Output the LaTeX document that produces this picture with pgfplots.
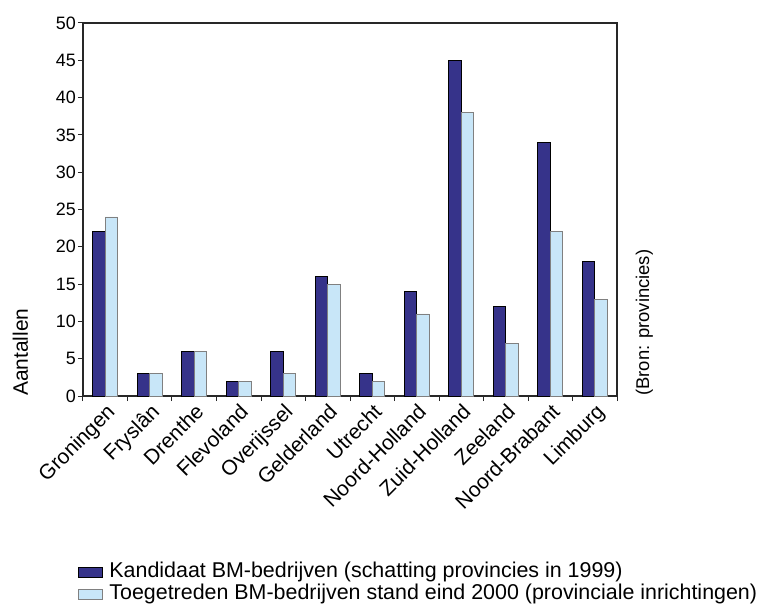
\documentclass[border=0pt]{standalone}
\usepackage{fontspec}
\setmainfont{Liberation Sans}
\usepackage{pgfplots}
\pgfplotsset{compat=1.18}
\definecolor{darkbar}{RGB}{54,51,138}
\definecolor{lightbar}{RGB}{200,230,248}
\definecolor{axiscol}{RGB}{40,40,40}
\begin{document}
\begin{tikzpicture}
\path[use as bounding box] (-83bp,-211bp) rectangle (675bp,396bp);
\begin{axis}[
  at={(0,0)}, anchor=south west,
  scale only axis, width=534bp, height=373bp,
  xmin=-0.5, xmax=11.5, ymin=0, ymax=50,
  ytick={0,5,...,50},
  xtick={0,...,11},
  xticklabels={Groningen,Fryslân,Drenthe,Flevoland,Overijssel,Gelderland,Utrecht,Noord-Holland,Zuid-Holland,Zeeland,Noord-Brabant,Limburg},
  minor xtick={-0.5,0.5,...,11.5},
  major x tick style={draw=none},
  tick align=outside,
  major tick length=5bp, minor tick length=5bp,
  xtick pos=bottom, ytick pos=left,
  tick style={axiscol, line width=1bp},
  axis line style={axiscol, line width=1.3bp},
  /pgf/number format/assume math mode=true,
  yticklabel style={font=\fontsize{18}{21}\selectfont, inner sep=2bp},
  xticklabel style={font=\fontsize{21}{24}\selectfont, rotate=45, anchor=north east, inner sep=1bp},
  ybar=0pt, bar width=0.28,
  legend style={at={(axis description cs:-0.0095,-0.443)}, anchor=north west, draw=none, fill=none,
    font=\fontsize{21.5}{24}\selectfont, inner sep=0pt, row sep=0pt,
    nodes={inner ysep=0.5bp, inner xsep=1.5bp, text height=16bp, text depth=5bp}},
  legend cell align=left,
  legend image code/.code={\draw[#1] (0bp,-5bp) rectangle (24bp,5bp); \path (29bp,0bp);},
]
\addplot[fill=darkbar, draw=black, line width=0.8bp] coordinates {
(0,22) (1,3) (2,6) (3,2) (4,6) (5,16) (6,3) (7,14) (8,45) (9,12) (10,34) (11,18)};
\addlegendentry{Kandidaat BM-bedrijven (schatting provincies in 1999)}
\addplot[fill=lightbar, draw=gray, line width=0.8bp] coordinates {
(0,24) (1,3) (2,6) (3,2) (4,3) (5,15) (6,2) (7,11) (8,38) (9,7) (10,22) (11,13)};
\addlegendentry{Toegetreden BM-bedrijven stand eind 2000 (provinciale inrichtingen)}
\end{axis}
\node[rotate=90, anchor=base west, inner sep=0pt, font=\fontsize{21}{24}\selectfont] at (-55bp,0) {Aantallen};
\node[rotate=90, anchor=base west, inner sep=0pt, font=\fontsize{18.5}{22}\selectfont] at (566bp,0) {(Bron: provincies)};
\end{tikzpicture}
\end{document}
